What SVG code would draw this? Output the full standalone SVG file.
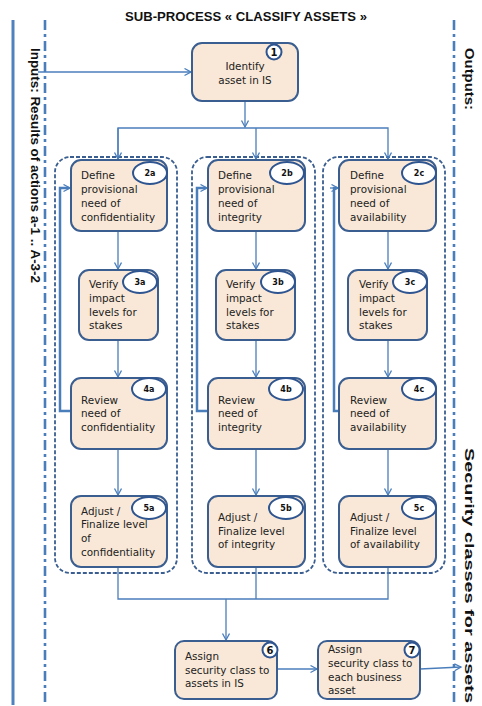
<svg xmlns="http://www.w3.org/2000/svg" width="482" height="706" viewBox="0 0 482 706">
<style>
.box{fill:#F9E8D7;stroke:#3B5E91;stroke-width:2}
.tag{fill:#fff;stroke:#2F5590;stroke-width:2}
.tagt{font-family:"DejaVu Sans",sans-serif;font-size:8px;font-weight:bold;fill:#111;text-anchor:middle}
.numt{font-family:"DejaVu Sans",sans-serif;font-size:10px;font-weight:bold;fill:#111;text-anchor:middle}
.t{font-family:"DejaVu Sans",sans-serif;font-size:10.4px;fill:#222}
.c{fill:none;stroke:#4A7EBB;stroke-width:1.3}
.fb{fill:none;stroke:#4A7EBB;stroke-width:2.5}
.grp{fill:none;stroke:#3B5E91;stroke-width:1.8;stroke-dasharray:4 2}
.lane{fill:none;stroke:#4A7EBB;stroke-width:2.6;stroke-dasharray:10 4 3 4}
.side{font-family:"Liberation Sans",Arial,sans-serif;font-size:13.5px;fill:#111}
</style>
<defs>
<marker id="ah" markerUnits="userSpaceOnUse" markerWidth="9" markerHeight="9" refX="7" refY="4" orient="auto">
<path d="M0.5,0.5 L7,4 L0.5,7.5" fill="none" stroke="#4A7EBB" stroke-width="1.3"/>
</marker>
</defs>

<text x="246" y="21" font-family="Liberation Sans,Arial,sans-serif" font-size="13px" font-weight="bold" text-anchor="middle" textLength="242" lengthAdjust="spacingAndGlyphs" fill="#111">SUB-PROCESS « CLASSIFY ASSETS »</text>

<g id="lanes">
<line x1="13" y1="20" x2="13" y2="705" stroke="#4F81BD" stroke-width="3"/>
<line class="lane" x1="45" y1="20" x2="45" y2="706"/>
<line class="lane" x1="454" y1="20" x2="454" y2="706"/>
<text class="side" transform="translate(35,165.5) rotate(90)" text-anchor="middle" dominant-baseline="central" font-weight="bold" textLength="235" lengthAdjust="spacingAndGlyphs">Inputs: Results of actions a-1 .. A-3-2</text>
<text class="side" transform="translate(469,79) rotate(90)" text-anchor="middle" dominant-baseline="central" font-weight="bold" textLength="62" lengthAdjust="spacingAndGlyphs">Outputs:</text>
<text class="side" transform="translate(469,575.5) rotate(90)" text-anchor="middle" dominant-baseline="central" font-weight="bold" textLength="255" lengthAdjust="spacingAndGlyphs">Security classes for assets</text>
</g>

<g id="groups">
<rect class="grp" x="55" y="157" width="122" height="416" rx="15"/>
<rect class="grp" x="192" y="157" width="123" height="416" rx="15"/>
<rect class="grp" x="323" y="157" width="122" height="416" rx="15"/>
</g>

<g id="connectors">
<line class="c" x1="38" y1="72" x2="191" y2="72" marker-end="url(#ah)"/>
<line class="c" x1="245" y1="101" x2="245" y2="127" marker-end="url(#ah)"/>
<polyline class="c" points="118,159 118,128 388,128 388,159" marker-end="url(#ah)"/>
<line class="c" x1="118" y1="128" x2="118" y2="159" marker-end="url(#ah)"/>
<line class="c" x1="256" y1="128" x2="256" y2="159" marker-end="url(#ah)"/>
<line class="c" x1="118" y1="231" x2="118" y2="269" marker-end="url(#ah)"/>
<line class="c" x1="256" y1="231" x2="256" y2="269" marker-end="url(#ah)"/>
<line class="c" x1="388" y1="231" x2="388" y2="269" marker-end="url(#ah)"/>
<line class="c" x1="118" y1="340" x2="118" y2="377" marker-end="url(#ah)"/>
<line class="c" x1="256" y1="340" x2="256" y2="377" marker-end="url(#ah)"/>
<line class="c" x1="388" y1="340" x2="388" y2="377" marker-end="url(#ah)"/>
<line class="c" x1="118" y1="449" x2="118" y2="495" marker-end="url(#ah)"/>
<line class="c" x1="256" y1="449" x2="256" y2="495" marker-end="url(#ah)"/>
<line class="c" x1="388" y1="449" x2="388" y2="495" marker-end="url(#ah)"/>
<polyline class="fb" points="71,411 60,411 60,188 69,188"/>
<polyline class="fb" points="208,411 197,411 197,188 206,188"/>
<polyline class="fb" points="339,411 334,411 334,188 337,188"/>
<line class="c" x1="62" y1="188" x2="70" y2="188" marker-end="url(#ah)"/>
<line class="c" x1="199" y1="188" x2="207" y2="188" marker-end="url(#ah)"/>
<line class="c" x1="330" y1="188" x2="338" y2="188" marker-end="url(#ah)"/>
<polyline class="c" points="118,567 118,599 388,599 388,567"/>
<line class="c" x1="256" y1="567" x2="256" y2="599"/>
<line class="c" x1="226" y1="599" x2="226" y2="640" marker-end="url(#ah)"/>
<line class="c" x1="277" y1="669" x2="317" y2="669" marker-end="url(#ah)"/>
<line class="c" x1="420" y1="669" x2="461" y2="667" marker-end="url(#ah)"/>
</g>

<g id="n1">
<rect class="box" x="192" y="43" width="106" height="58" rx="10"/>
<circle class="tag" cx="274" cy="52" r="7.5"/>
<text class="numt" x="274" y="55.5">1</text>
<text class="t" x="245" y="70" text-anchor="middle">Identify</text>
<text class="t" x="245" y="84" text-anchor="middle">asset in IS</text>
</g>

<g id="n2a">
<rect class="box" x="71" y="160" width="96" height="71" rx="10"/>
<ellipse class="tag" cx="150" cy="173" rx="17" ry="11"/>
<text class="tagt" x="150" y="176">2a</text>
<text class="t" x="81" y="179">Define</text>
<text class="t" x="81" y="193">provisional</text>
<text class="t" x="81" y="207">need of</text>
<text class="t" x="81" y="221">confidentiality</text>
</g>
<g id="n2b">
<rect class="box" x="208" y="160" width="97" height="71" rx="10"/>
<ellipse class="tag" cx="287" cy="173" rx="17" ry="11"/>
<text class="tagt" x="287" y="176">2b</text>
<text class="t" x="218" y="179">Define</text>
<text class="t" x="218" y="193">provisional</text>
<text class="t" x="218" y="207">need of</text>
<text class="t" x="218" y="221">integrity</text>
</g>
<g id="n2c">
<rect class="box" x="339" y="160" width="97" height="71" rx="10"/>
<ellipse class="tag" cx="419" cy="173" rx="17" ry="11"/>
<text class="tagt" x="419" y="176">2c</text>
<text class="t" x="350" y="179">Define</text>
<text class="t" x="350" y="193">provisional</text>
<text class="t" x="350" y="207">need of</text>
<text class="t" x="350" y="221">availability</text>
</g>

<g id="n3a">
<rect class="box" x="79" y="270" width="79" height="70" rx="10"/>
<ellipse class="tag" cx="140" cy="282" rx="17" ry="11"/>
<text class="tagt" x="140" y="285">3a</text>
<text class="t" x="89" y="288">Verify</text>
<text class="t" x="89" y="302">impact</text>
<text class="t" x="89" y="316">levels for</text>
<text class="t" x="89" y="329">stakes</text>
</g>
<g id="n3b">
<rect class="box" x="216" y="270" width="79" height="70" rx="10"/>
<ellipse class="tag" cx="278" cy="282" rx="17" ry="11"/>
<text class="tagt" x="278" y="285">3b</text>
<text class="t" x="226" y="288">Verify</text>
<text class="t" x="226" y="302">impact</text>
<text class="t" x="226" y="316">levels for</text>
<text class="t" x="226" y="329">stakes</text>
</g>
<g id="n3c">
<rect class="box" x="348" y="270" width="79" height="70" rx="10"/>
<ellipse class="tag" cx="410" cy="282" rx="17" ry="11"/>
<text class="tagt" x="410" y="285">3c</text>
<text class="t" x="359" y="288">Verify</text>
<text class="t" x="359" y="302">impact</text>
<text class="t" x="359" y="316">levels for</text>
<text class="t" x="359" y="329">stakes</text>
</g>

<g id="n4a">
<rect class="box" x="71" y="378" width="96" height="71" rx="10"/>
<ellipse class="tag" cx="149" cy="389" rx="17" ry="11"/>
<text class="tagt" x="149" y="392">4a</text>
<text class="t" x="81" y="404">Review</text>
<text class="t" x="81" y="417">need of</text>
<text class="t" x="81" y="431">confidentiality</text>
</g>
<g id="n4b">
<rect class="box" x="208" y="378" width="97" height="71" rx="10"/>
<ellipse class="tag" cx="286" cy="389" rx="17" ry="11"/>
<text class="tagt" x="286" y="392">4b</text>
<text class="t" x="218" y="404">Review</text>
<text class="t" x="218" y="417">need of</text>
<text class="t" x="218" y="431">integrity</text>
</g>
<g id="n4c">
<rect class="box" x="339" y="378" width="97" height="71" rx="10"/>
<ellipse class="tag" cx="419" cy="389" rx="17" ry="11"/>
<text class="tagt" x="419" y="392">4c</text>
<text class="t" x="350" y="404">Review</text>
<text class="t" x="350" y="417">need of</text>
<text class="t" x="350" y="431">availability</text>
</g>

<g id="n5a">
<rect class="box" x="71" y="496" width="96" height="71" rx="10"/>
<ellipse class="tag" cx="149" cy="508" rx="17" ry="11"/>
<text class="tagt" x="149" y="511">5a</text>
<text class="t" x="81" y="515">Adjust /</text>
<text class="t" x="81" y="528">Finalize level</text>
<text class="t" x="81" y="542">of</text>
<text class="t" x="81" y="556">confidentiality</text>
</g>
<g id="n5b">
<rect class="box" x="208" y="496" width="97" height="71" rx="10"/>
<ellipse class="tag" cx="286" cy="508" rx="17" ry="11"/>
<text class="tagt" x="286" y="511">5b</text>
<text class="t" x="218" y="521">Adjust /</text>
<text class="t" x="218" y="535">Finalize level</text>
<text class="t" x="218" y="548">of integrity</text>
</g>
<g id="n5c">
<rect class="box" x="339" y="496" width="97" height="71" rx="10"/>
<ellipse class="tag" cx="419" cy="508" rx="17" ry="11"/>
<text class="tagt" x="419" y="511">5c</text>
<text class="t" x="350" y="521">Adjust /</text>
<text class="t" x="350" y="535">Finalize level</text>
<text class="t" x="350" y="548">of availability</text>
</g>

<g id="n6">
<rect class="box" x="175" y="641" width="102" height="58" rx="9"/>
<circle class="tag" cx="270" cy="650" r="7.5"/>
<text class="numt" x="270" y="653.5">6</text>
<text class="t" x="185" y="660">Assign</text>
<text class="t" x="185" y="674">security class to</text>
<text class="t" x="185" y="687">assets in IS</text>
</g>
<g id="n7">
<rect class="box" x="318" y="641" width="102" height="58" rx="9"/>
<circle class="tag" cx="412" cy="650" r="7.5"/>
<text class="numt" x="412" y="653.5">7</text>
<text class="t" x="328" y="653">Assign</text>
<text class="t" x="328" y="667">security class to</text>
<text class="t" x="328" y="681">each business</text>
<text class="t" x="328" y="694">asset</text>
</g>
</svg>
